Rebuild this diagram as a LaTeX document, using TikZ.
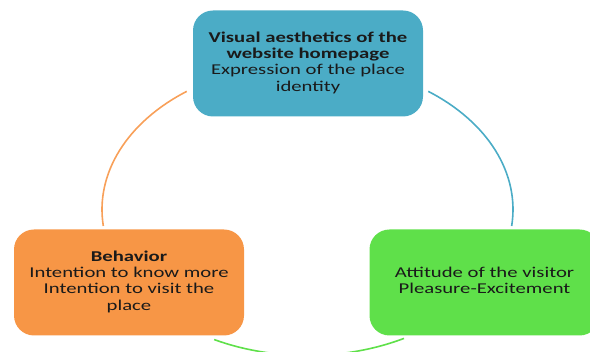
\documentclass[tikz,border=0pt]{standalone}
\usepackage{fontspec}
\setmainfont{Carlito}
\usetikzlibrary{calc}
\definecolor{cblue}{HTML}{4BACC6}
\definecolor{corange}{HTML}{F79646}
\definecolor{cgreen}{HTML}{5FE04A}
\definecolor{ctext}{HTML}{1A1A1A}
\newcommand{\wideline}[1]{\scalebox{1.38}[1]{\begin{tabular}{@{}c@{}}#1\end{tabular}}}
\tikzset{
  box/.style={rounded corners=20pt, minimum width=230pt, minimum height=106pt,
    align=center, text=ctext, font=\fontsize{15}{16.3}\selectfont, inner sep=0pt},
  arcline/.style={line width=1.6pt}
}
\begin{document}
\begin{tikzpicture}[x=1pt,y=1pt]
\clip (0,0) rectangle (590,-352);
\coordinate (o) at (307.5,-209.5);
\node[box, fill=cblue] (top) at (308,-63.5) {\wideline{\textbf{Visual aesthetics of the}\\\textbf{website homepage}\\Expression of the place\\identity}};
\node[box, fill=corange] (left) at (129,-282.5) {\wideline{\textbf{Behavior}\\Intention to know more\\Intention to visit the\\place}};
\node[box, fill=cgreen] (right) at (484.5,-282.5) {\wideline{Attitude of the visitor\\Pleasure-Excitement}};
\coordinate (a1) at ($(o)+(126:205.5 and 146)$);
\coordinate (b1) at ($(o)+(54:205.5 and 146)$);
\coordinate (g1) at ($(o)+(298:205.5 and 146)$);
\draw[arcline, draw=corange!90] (a1) arc[start angle=126, end angle=186.5, x radius=205.5, y radius=146];
\draw[arcline, draw=cblue] (b1) arc[start angle=54, end angle=-6.5, x radius=205.5, y radius=146];
\draw[arcline, draw=cgreen] (g1) arc[start angle=298, end angle=243, x radius=205.5, y radius=146];
\end{tikzpicture}
\end{document}
